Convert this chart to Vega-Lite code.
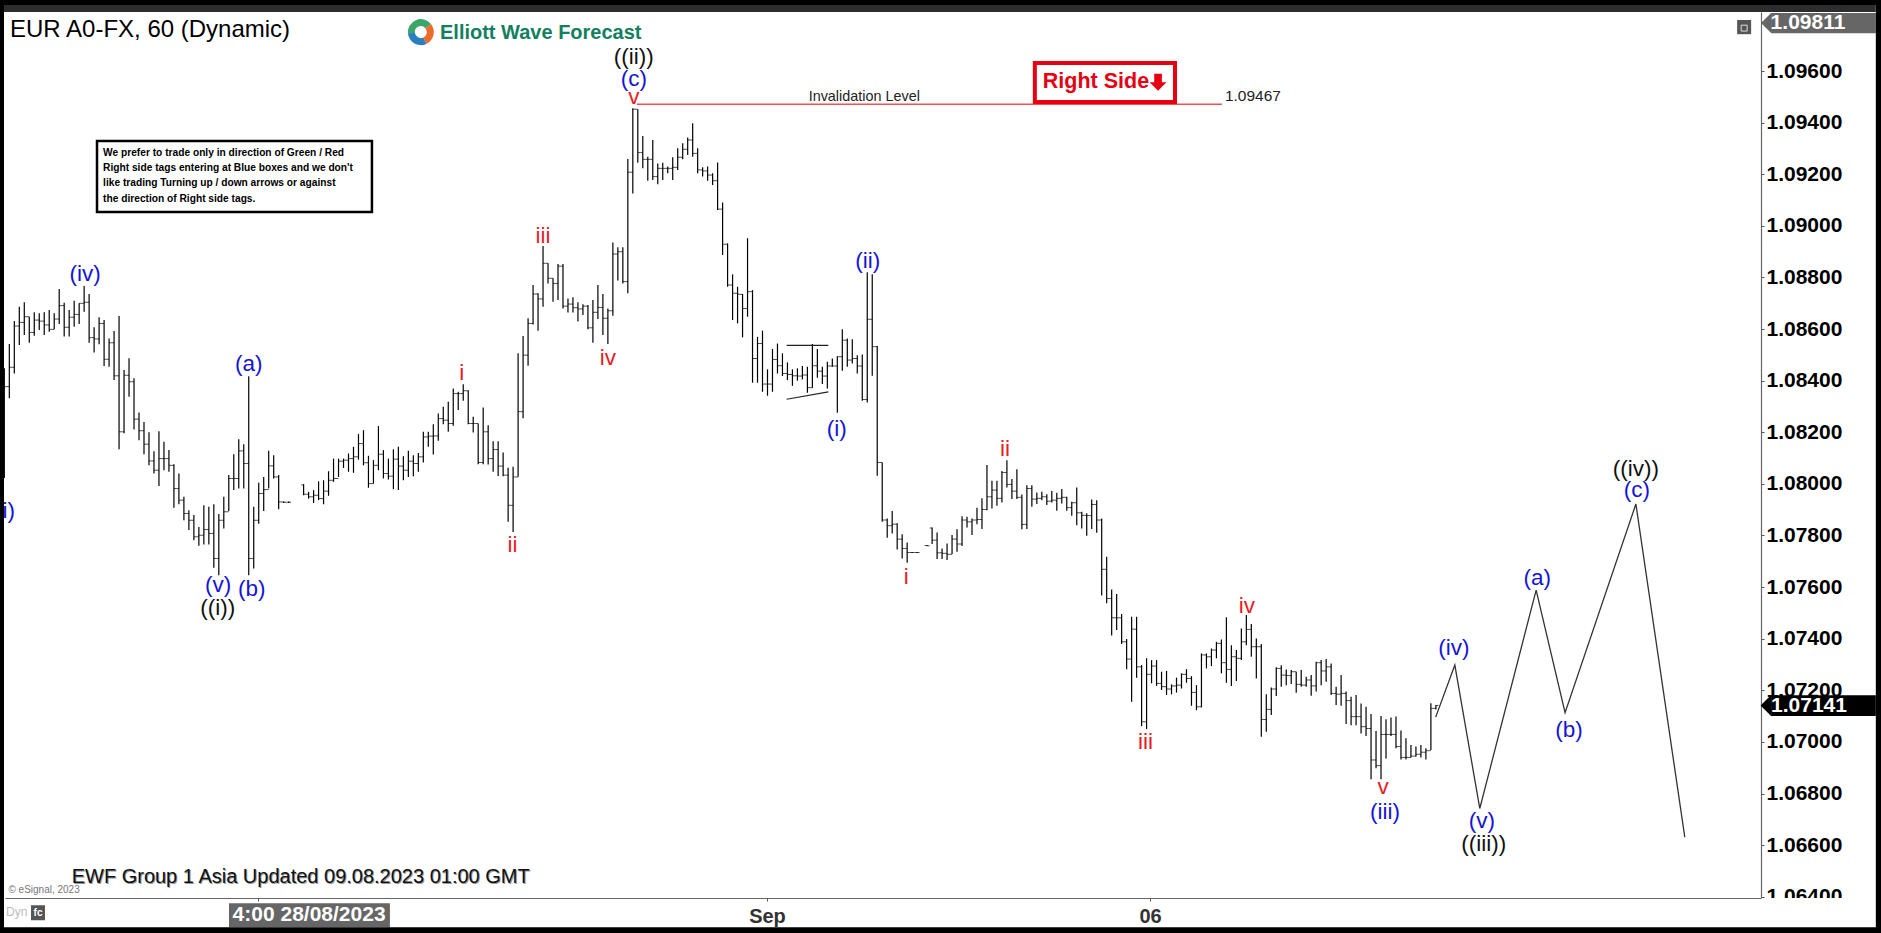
{"$schema":"https://vega.github.io/schema/vega-lite/v6.json","width":1756,"height":886,"padding":{"left":5,"top":12,"right":120,"bottom":35},"autosize":{"type":"none"},"background":"#ffffff","view":{"stroke":null,"fill":"#ffffff"},
"config":{"font":"Liberation Sans","text":{"font":"Liberation Sans"}},
"data":{"values":[{"part":"frame"}]},
"datasets":{
"bars":[
{"i":0,"h":1.08448,"l":1.08023,"o":1.08300,"c":1.08377},{"i":1,"h":1.08542,"l":1.08332,"o":1.08377,"c":1.08452},{"i":2,"h":1.08631,"l":1.08428,"o":1.08452,"c":1.08612},{"i":3,"h":1.08687,"l":1.08538,"o":1.08612,"c":1.08626},{"i":4,"h":1.08704,"l":1.08577,"o":1.08626,"c":1.08648},{"i":5,"h":1.08648,"l":1.08547,"o":1.08648,"c":1.08587},{"i":6,"h":1.08665,"l":1.08574,"o":1.08587,"c":1.08635},{"i":7,"h":1.08661,"l":1.08596,"o":1.08635,"c":1.08631},{"i":8,"h":1.08665,"l":1.08577,"o":1.08631,"c":1.08616},{"i":9,"h":1.08674,"l":1.08590,"o":1.08616,"c":1.08599},{"i":10,"h":1.08661,"l":1.08599,"o":1.08599,"c":1.08639},{"i":11,"h":1.08755,"l":1.08620,"o":1.08639,"c":1.08691},{"i":12,"h":1.08702,"l":1.08571,"o":1.08691,"c":1.08607},{"i":13,"h":1.08674,"l":1.08571,"o":1.08607,"c":1.08646},{"i":14,"h":1.08710,"l":1.08609,"o":1.08646,"c":1.08657},{"i":15,"h":1.08700,"l":1.08620,"o":1.08657,"c":1.08700},{"i":16,"h":1.08767,"l":1.08667,"o":1.08700,"c":1.08704},{"i":17,"h":1.08736,"l":1.08547,"o":1.08704,"c":1.08567},{"i":18,"h":1.08607,"l":1.08509,"o":1.08567,"c":1.08562},{"i":19,"h":1.08646,"l":1.08541,"o":1.08562,"c":1.08622},{"i":20,"h":1.08635,"l":1.08457,"o":1.08622,"c":1.08483},{"i":21,"h":1.08564,"l":1.08454,"o":1.08483,"c":1.08547},{"i":22,"h":1.08593,"l":1.08403,"o":1.08547,"c":1.08419},{"i":23,"h":1.08651,"l":1.08134,"o":1.08419,"c":1.08202},{"i":24,"h":1.08441,"l":1.08196,"o":1.08202,"c":1.08421},{"i":25,"h":1.08487,"l":1.08338,"o":1.08421,"c":1.08396},{"i":26,"h":1.08409,"l":1.08211,"o":1.08396,"c":1.08251},{"i":27,"h":1.08277,"l":1.08169,"o":1.08251,"c":1.08206},{"i":28,"h":1.08240,"l":1.08115,"o":1.08206,"c":1.08154},{"i":29,"h":1.08200,"l":1.08072,"o":1.08154,"c":1.08089},{"i":30,"h":1.08127,"l":1.08040,"o":1.08089,"c":1.08053},{"i":31,"h":1.08204,"l":1.07992,"o":1.08053,"c":1.08098},{"i":32,"h":1.08163,"l":1.08053,"o":1.08098,"c":1.08098},{"i":33,"h":1.08131,"l":1.08047,"o":1.08098,"c":1.08072},{"i":34,"h":1.08076,"l":1.07908,"o":1.08072,"c":1.07982},{"i":35,"h":1.08040,"l":1.07921,"o":1.07982,"c":1.07937},{"i":36,"h":1.07950,"l":1.07859,"o":1.07937,"c":1.07885},{"i":37,"h":1.07898,"l":1.07821,"o":1.07885,"c":1.07859},{"i":38,"h":1.07879,"l":1.07782,"o":1.07859,"c":1.07795},{"i":39,"h":1.07833,"l":1.07760,"o":1.07795,"c":1.07801},{"i":40,"h":1.07917,"l":1.07765,"o":1.07801,"c":1.07823},{"i":41,"h":1.07911,"l":1.07765,"o":1.07823,"c":1.07808},{"i":42,"h":1.07921,"l":1.07675,"o":1.07808,"c":1.07711},{"i":43,"h":1.07883,"l":1.07646,"o":1.07711,"c":1.07859},{"i":44,"h":1.07950,"l":1.07827,"o":1.07859,"c":1.07892},{"i":45,"h":1.08034,"l":1.07895,"o":1.07892,"c":1.08021},{"i":46,"h":1.08115,"l":1.07976,"o":1.08021,"c":1.08021},{"i":47,"h":1.08173,"l":1.07982,"o":1.08021,"c":1.08128},{"i":48,"h":1.08154,"l":1.07982,"o":1.08128,"c":1.08079},{"i":49,"h":1.08417,"l":1.07646,"o":1.08079,"c":1.07711},{"i":50,"h":1.07911,"l":1.07672,"o":1.07711,"c":1.07859},{"i":51,"h":1.08004,"l":1.07846,"o":1.07859,"c":1.07963},{"i":52,"h":1.08027,"l":1.07895,"o":1.07963,"c":1.07978},{"i":53,"h":1.08128,"l":1.07982,"o":1.07978,"c":1.08070},{"i":54,"h":1.08111,"l":1.08021,"o":1.08070,"c":1.08027},{"i":55,"h":1.08034,"l":1.07902,"o":1.08027,"c":1.07930},{"i":56,"h":1.07932,"l":1.07926,"o":1.07930,"c":1.07929},{"i":57,"h":1.07932,"l":1.07926,"o":1.07929,"c":1.07929},
{"i":60,"h":1.07999,"l":1.07956,"o":1.07996,"c":1.07960},{"i":61,"h":1.07969,"l":1.07943,"o":1.07960,"c":1.07950},{"i":62,"h":1.07976,"l":1.07926,"o":1.07950,"c":1.07956},{"i":63,"h":1.08010,"l":1.07937,"o":1.07956,"c":1.07943},{"i":64,"h":1.08014,"l":1.07921,"o":1.07943,"c":1.07972},{"i":65,"h":1.08049,"l":1.07954,"o":1.07972,"c":1.08014},{"i":66,"h":1.08098,"l":1.08008,"o":1.08014,"c":1.08021},{"i":67,"h":1.08098,"l":1.08027,"o":1.08021,"c":1.08088},{"i":68,"h":1.08098,"l":1.08062,"o":1.08088,"c":1.08092},{"i":69,"h":1.08118,"l":1.08047,"o":1.08092,"c":1.08098},{"i":70,"h":1.08144,"l":1.08043,"o":1.08098,"c":1.08105},{"i":71,"h":1.08193,"l":1.08094,"o":1.08105,"c":1.08156},{"i":72,"h":1.08208,"l":1.08072,"o":1.08156,"c":1.08082},{"i":73,"h":1.08109,"l":1.07985,"o":1.08082,"c":1.08001},{"i":74,"h":1.08092,"l":1.08001,"o":1.08001,"c":1.08072},{"i":75,"h":1.08224,"l":1.08053,"o":1.08072,"c":1.08115},{"i":76,"h":1.08131,"l":1.08021,"o":1.08115,"c":1.08040},{"i":77,"h":1.08098,"l":1.08017,"o":1.08040,"c":1.08030},{"i":78,"h":1.08134,"l":1.07979,"o":1.08030,"c":1.08096},{"i":79,"h":1.08144,"l":1.07976,"o":1.08096,"c":1.08069},{"i":80,"h":1.08107,"l":1.08014,"o":1.08069,"c":1.08053},{"i":81,"h":1.08128,"l":1.08027,"o":1.08053,"c":1.08088},{"i":82,"h":1.08111,"l":1.08030,"o":1.08088,"c":1.08079},{"i":83,"h":1.08120,"l":1.08047,"o":1.08079,"c":1.08105},{"i":84,"h":1.08202,"l":1.08083,"o":1.08105,"c":1.08182},{"i":85,"h":1.08202,"l":1.08144,"o":1.08182,"c":1.08185},{"i":86,"h":1.08231,"l":1.08114,"o":1.08185,"c":1.08186},{"i":87,"h":1.08273,"l":1.08167,"o":1.08186,"c":1.08253},{"i":88,"h":1.08299,"l":1.08231,"o":1.08253,"c":1.08247},{"i":89,"h":1.08318,"l":1.08202,"o":1.08247,"c":1.08234},{"i":90,"h":1.08370,"l":1.08225,"o":1.08234,"c":1.08350},{"i":91,"h":1.08357,"l":1.08286,"o":1.08350,"c":1.08350},{"i":92,"h":1.08386,"l":1.08322,"o":1.08350,"c":1.08361},{"i":93,"h":1.08363,"l":1.08231,"o":1.08361,"c":1.08234},{"i":94,"h":1.08260,"l":1.08199,"o":1.08234,"c":1.08234},{"i":95,"h":1.08234,"l":1.08076,"o":1.08234,"c":1.08083},{"i":96,"h":1.08296,"l":1.08076,"o":1.08083,"c":1.08202},{"i":97,"h":1.08227,"l":1.08075,"o":1.08202,"c":1.08098},{"i":98,"h":1.08165,"l":1.08047,"o":1.08098,"c":1.08133},{"i":99,"h":1.08165,"l":1.08031,"o":1.08133,"c":1.08069},{"i":100,"h":1.08122,"l":1.08030,"o":1.08069,"c":1.08034},{"i":101,"h":1.08063,"l":1.07853,"o":1.08034,"c":1.07917},{"i":102,"h":1.08066,"l":1.07814,"o":1.07917,"c":1.08027},{"i":103,"h":1.08506,"l":1.08028,"o":1.08027,"c":1.08280},{"i":104,"h":1.08573,"l":1.08254,"o":1.08280,"c":1.08499},{"i":105,"h":1.08642,"l":1.08458,"o":1.08499,"c":1.08622},{"i":106,"h":1.08771,"l":1.08618,"o":1.08622,"c":1.08736},{"i":107,"h":1.08739,"l":1.08594,"o":1.08736,"c":1.08717},{"i":108,"h":1.08922,"l":1.08687,"o":1.08717,"c":1.08855},{"i":109,"h":1.08855,"l":1.08777,"o":1.08855,"c":1.08797},{"i":110,"h":1.08797,"l":1.08706,"o":1.08797,"c":1.08777},{"i":111,"h":1.08852,"l":1.08713,"o":1.08777,"c":1.08844},{"i":112,"h":1.08852,"l":1.08680,"o":1.08844,"c":1.08689},{"i":113,"h":1.08719,"l":1.08664,"o":1.08689,"c":1.08697},{"i":114,"h":1.08723,"l":1.08664,"o":1.08697,"c":1.08683},{"i":115,"h":1.08704,"l":1.08629,"o":1.08683,"c":1.08678},{"i":116,"h":1.08696,"l":1.08655,"o":1.08678,"c":1.08689},{"i":117,"h":1.08693,"l":1.08599,"o":1.08689,"c":1.08605},{"i":118,"h":1.08713,"l":1.08547,"o":1.08605,"c":1.08665},{"i":119,"h":1.08771,"l":1.08639,"o":1.08665,"c":1.08684},{"i":120,"h":1.08736,"l":1.08577,"o":1.08684,"c":1.08642},{"i":121,"h":1.08680,"l":1.08542,"o":1.08642,"c":1.08671},{"i":122,"h":1.08936,"l":1.08652,"o":1.08671,"c":1.08891},{"i":123,"h":1.08917,"l":1.08788,"o":1.08891,"c":1.08900},{"i":124,"h":1.08917,"l":1.08777,"o":1.08900,"c":1.08784},{"i":125,"h":1.09259,"l":1.08739,"o":1.08784,"c":1.09208},{"i":126,"h":1.09456,"l":1.09126,"o":1.09208,"c":1.09452},{"i":127,"h":1.09452,"l":1.09245,"o":1.09452,"c":1.09284},{"i":128,"h":1.09348,"l":1.09223,"o":1.09284,"c":1.09258},{"i":129,"h":1.09268,"l":1.09175,"o":1.09258,"c":1.09258},{"i":130,"h":1.09333,"l":1.09178,"o":1.09258,"c":1.09191},{"i":131,"h":1.09242,"l":1.09161,"o":1.09191,"c":1.09223},{"i":132,"h":1.09245,"l":1.09178,"o":1.09223,"c":1.09223},{"i":133,"h":1.09230,"l":1.09204,"o":1.09223,"c":1.09223},{"i":134,"h":1.09266,"l":1.09178,"o":1.09223,"c":1.09227},{"i":135,"h":1.09301,"l":1.09217,"o":1.09227,"c":1.09266},{"i":136,"h":1.09320,"l":1.09258,"o":1.09266,"c":1.09297},{"i":137,"h":1.09343,"l":1.09275,"o":1.09297,"c":1.09333},{"i":138,"h":1.09398,"l":1.09268,"o":1.09333,"c":1.09281},{"i":139,"h":1.09301,"l":1.09204,"o":1.09281,"c":1.09217},{"i":140,"h":1.09227,"l":1.09191,"o":1.09217,"c":1.09213},{"i":141,"h":1.09230,"l":1.09175,"o":1.09213,"c":1.09197},{"i":142,"h":1.09204,"l":1.09158,"o":1.09197,"c":1.09175},{"i":143,"h":1.09246,"l":1.09062,"o":1.09175,"c":1.09065},{"i":144,"h":1.09091,"l":1.08887,"o":1.09065,"c":1.08929},{"i":145,"h":1.08932,"l":1.08764,"o":1.08929,"c":1.08771},{"i":146,"h":1.08812,"l":1.08635,"o":1.08771,"c":1.08739},{"i":147,"h":1.08764,"l":1.08622,"o":1.08739,"c":1.08735},{"i":148,"h":1.08736,"l":1.08568,"o":1.08735,"c":1.08680},{"i":149,"h":1.08952,"l":1.08648,"o":1.08680,"c":1.08745},{"i":150,"h":1.08751,"l":1.08392,"o":1.08745,"c":1.08486},{"i":151,"h":1.08570,"l":1.08392,"o":1.08486,"c":1.08544},{"i":152,"h":1.08594,"l":1.08357,"o":1.08544,"c":1.08387},{"i":153,"h":1.08444,"l":1.08342,"o":1.08387,"c":1.08387},{"i":154,"h":1.08523,"l":1.08357,"o":1.08387,"c":1.08482},{"i":155,"h":1.08544,"l":1.08428,"o":1.08482,"c":1.08458},{"i":156,"h":1.08506,"l":1.08418,"o":1.08458,"c":1.08428},{"i":157,"h":1.08471,"l":1.08402,"o":1.08428,"c":1.08424},{"i":158,"h":1.08444,"l":1.08380,"o":1.08424,"c":1.08419},{"i":159,"h":1.08448,"l":1.08400,"o":1.08419,"c":1.08418},{"i":160,"h":1.08457,"l":1.08405,"o":1.08418,"c":1.08422},{"i":161,"h":1.08454,"l":1.08353,"o":1.08422,"c":1.08373},{"i":162,"h":1.08542,"l":1.08373,"o":1.08373,"c":1.08458},{"i":163,"h":1.08523,"l":1.08411,"o":1.08458,"c":1.08437},{"i":164,"h":1.08454,"l":1.08387,"o":1.08437,"c":1.08418},{"i":165,"h":1.08473,"l":1.08370,"o":1.08418,"c":1.08457},{"i":166,"h":1.08486,"l":1.08454,"o":1.08457,"c":1.08457},{"i":167,"h":1.08495,"l":1.08276,"o":1.08457,"c":1.08493},{"i":168,"h":1.08599,"l":1.08439,"o":1.08493,"c":1.08557},{"i":169,"h":1.08564,"l":1.08454,"o":1.08557,"c":1.08480},{"i":170,"h":1.08561,"l":1.08467,"o":1.08480,"c":1.08486},{"i":171,"h":1.08499,"l":1.08428,"o":1.08486,"c":1.08457},{"i":172,"h":1.08502,"l":1.08322,"o":1.08457,"c":1.08327},{"i":173,"h":1.08820,"l":1.08315,"o":1.08327,"c":1.08638},{"i":174,"h":1.08813,"l":1.08419,"o":1.08638,"c":1.08532},{"i":175,"h":1.08534,"l":1.08032,"o":1.08532,"c":1.08083},{"i":176,"h":1.08083,"l":1.07853,"o":1.08083,"c":1.07860},{"i":177,"h":1.07866,"l":1.07791,"o":1.07860,"c":1.07838},{"i":178,"h":1.07895,"l":1.07808,"o":1.07838,"c":1.07844},{"i":179,"h":1.07847,"l":1.07746,"o":1.07844,"c":1.07786},{"i":180,"h":1.07805,"l":1.07711,"o":1.07786,"c":1.07750},{"i":181,"h":1.07773,"l":1.07694,"o":1.07750,"c":1.07734},{"i":182,"h":1.07736,"l":1.07732,"o":1.07734,"c":1.07734},{"i":183,"h":1.07736,"l":1.07732,"o":1.07734,"c":1.07734},
{"i":185,"h":1.07763,"l":1.07759,"o":1.07761,"c":1.07760},{"i":186,"h":1.07831,"l":1.07767,"o":1.07829,"c":1.07782},{"i":187,"h":1.07812,"l":1.07709,"o":1.07782,"c":1.07733},{"i":188,"h":1.07750,"l":1.07709,"o":1.07733,"c":1.07731},{"i":189,"h":1.07769,"l":1.07705,"o":1.07731,"c":1.07727},{"i":190,"h":1.07802,"l":1.07728,"o":1.07727,"c":1.07786},{"i":191,"h":1.07824,"l":1.07737,"o":1.07786,"c":1.07767},{"i":192,"h":1.07875,"l":1.07759,"o":1.07767,"c":1.07860},{"i":193,"h":1.07873,"l":1.07831,"o":1.07860,"c":1.07853},{"i":194,"h":1.07866,"l":1.07802,"o":1.07853,"c":1.07860},{"i":195,"h":1.07908,"l":1.07844,"o":1.07860,"c":1.07862},{"i":196,"h":1.07944,"l":1.07825,"o":1.07862,"c":1.07901},{"i":197,"h":1.08073,"l":1.07898,"o":1.07901,"c":1.07950},{"i":198,"h":1.08012,"l":1.07905,"o":1.07950,"c":1.07976},{"i":199,"h":1.08012,"l":1.07915,"o":1.07976,"c":1.07944},{"i":200,"h":1.08050,"l":1.07928,"o":1.07944,"c":1.08044},{"i":201,"h":1.08092,"l":1.07986,"o":1.08044,"c":1.07998},{"i":202,"h":1.08019,"l":1.07941,"o":1.07998,"c":1.07972},{"i":203,"h":1.08057,"l":1.07941,"o":1.07972,"c":1.07948},{"i":204,"h":1.07959,"l":1.07824,"o":1.07948,"c":1.07843},{"i":205,"h":1.07995,"l":1.07825,"o":1.07843,"c":1.07982},{"i":206,"h":1.07995,"l":1.07911,"o":1.07982,"c":1.07941},{"i":207,"h":1.07967,"l":1.07922,"o":1.07941,"c":1.07944},{"i":208,"h":1.07970,"l":1.07937,"o":1.07944,"c":1.07950},{"i":209,"h":1.07960,"l":1.07918,"o":1.07950,"c":1.07933},{"i":210,"h":1.07972,"l":1.07928,"o":1.07933,"c":1.07937},{"i":211,"h":1.07966,"l":1.07896,"o":1.07937,"c":1.07944},{"i":212,"h":1.07980,"l":1.07924,"o":1.07944,"c":1.07948},{"i":213,"h":1.07950,"l":1.07896,"o":1.07948,"c":1.07908},{"i":214,"h":1.07931,"l":1.07877,"o":1.07908,"c":1.07927},{"i":215,"h":1.07986,"l":1.07840,"o":1.07927,"c":1.07888},{"i":216,"h":1.07892,"l":1.07827,"o":1.07888,"c":1.07878},{"i":217,"h":1.07886,"l":1.07799,"o":1.07878,"c":1.07877},{"i":218,"h":1.07940,"l":1.07825,"o":1.07877,"c":1.07920},{"i":219,"h":1.07937,"l":1.07811,"o":1.07920,"c":1.07860},{"i":220,"h":1.07866,"l":1.07567,"o":1.07860,"c":1.07669},{"i":221,"h":1.07718,"l":1.07537,"o":1.07669,"c":1.07556},{"i":222,"h":1.07591,"l":1.07412,"o":1.07556,"c":1.07481},{"i":223,"h":1.07573,"l":1.07434,"o":1.07481,"c":1.07481},{"i":224,"h":1.07496,"l":1.07379,"o":1.07481,"c":1.07388},{"i":225,"h":1.07399,"l":1.07282,"o":1.07388,"c":1.07321},{"i":226,"h":1.07485,"l":1.07156,"o":1.07321,"c":1.07437},{"i":227,"h":1.07485,"l":1.07249,"o":1.07437,"c":1.07291},{"i":228,"h":1.07298,"l":1.07061,"o":1.07291,"c":1.07078},{"i":229,"h":1.07324,"l":1.07050,"o":1.07078,"c":1.07262},{"i":230,"h":1.07317,"l":1.07227,"o":1.07262,"c":1.07294},{"i":231,"h":1.07317,"l":1.07217,"o":1.07294,"c":1.07227},{"i":232,"h":1.07272,"l":1.07201,"o":1.07227,"c":1.07214},{"i":233,"h":1.07275,"l":1.07182,"o":1.07214,"c":1.07205},{"i":234,"h":1.07223,"l":1.07184,"o":1.07205,"c":1.07217},{"i":235,"h":1.07249,"l":1.07191,"o":1.07217,"c":1.07220},{"i":236,"h":1.07266,"l":1.07207,"o":1.07220,"c":1.07262},{"i":237,"h":1.07282,"l":1.07229,"o":1.07262,"c":1.07246},{"i":238,"h":1.07255,"l":1.07140,"o":1.07246,"c":1.07192},{"i":239,"h":1.07220,"l":1.07123,"o":1.07192,"c":1.07136},{"i":240,"h":1.07343,"l":1.07134,"o":1.07136,"c":1.07337},{"i":241,"h":1.07343,"l":1.07285,"o":1.07337,"c":1.07330},{"i":242,"h":1.07362,"l":1.07294,"o":1.07330,"c":1.07356},{"i":243,"h":1.07388,"l":1.07324,"o":1.07356,"c":1.07382},{"i":244,"h":1.07397,"l":1.07266,"o":1.07382,"c":1.07307},{"i":245,"h":1.07483,"l":1.07229,"o":1.07307,"c":1.07281},{"i":246,"h":1.07375,"l":1.07217,"o":1.07281,"c":1.07330},{"i":247,"h":1.07356,"l":1.07236,"o":1.07330,"c":1.07324},{"i":248,"h":1.07440,"l":1.07317,"o":1.07324,"c":1.07388},{"i":249,"h":1.07492,"l":1.07375,"o":1.07388,"c":1.07436},{"i":250,"h":1.07457,"l":1.07330,"o":1.07436,"c":1.07369},{"i":251,"h":1.07401,"l":1.07246,"o":1.07369,"c":1.07369},{"i":252,"h":1.07379,"l":1.07020,"o":1.07369,"c":1.07087},{"i":253,"h":1.07185,"l":1.07039,"o":1.07087,"c":1.07126},{"i":254,"h":1.07211,"l":1.07104,"o":1.07126,"c":1.07205},{"i":255,"h":1.07289,"l":1.07178,"o":1.07205,"c":1.07285},{"i":256,"h":1.07297,"l":1.07214,"o":1.07285,"c":1.07259},{"i":257,"h":1.07281,"l":1.07220,"o":1.07259,"c":1.07257},{"i":258,"h":1.07279,"l":1.07224,"o":1.07257,"c":1.07272},{"i":259,"h":1.07272,"l":1.07191,"o":1.07272,"c":1.07223},{"i":260,"h":1.07279,"l":1.07214,"o":1.07223,"c":1.07220},{"i":261,"h":1.07253,"l":1.07214,"o":1.07220,"c":1.07240},{"i":262,"h":1.07259,"l":1.07179,"o":1.07240,"c":1.07217},{"i":263,"h":1.07311,"l":1.07195,"o":1.07217,"c":1.07307},{"i":264,"h":1.07317,"l":1.07220,"o":1.07307,"c":1.07275},{"i":265,"h":1.07321,"l":1.07233,"o":1.07275,"c":1.07291},{"i":266,"h":1.07304,"l":1.07182,"o":1.07291,"c":1.07188},{"i":267,"h":1.07214,"l":1.07143,"o":1.07188,"c":1.07185},{"i":268,"h":1.07259,"l":1.07140,"o":1.07185,"c":1.07188},{"i":269,"h":1.07195,"l":1.07069,"o":1.07188,"c":1.07160},{"i":270,"h":1.07175,"l":1.07065,"o":1.07160,"c":1.07098},{"i":271,"h":1.07182,"l":1.07065,"o":1.07098,"c":1.07098},{"i":272,"h":1.07149,"l":1.07033,"o":1.07098,"c":1.07059},{"i":273,"h":1.07136,"l":1.07023,"o":1.07059,"c":1.07052},{"i":274,"h":1.07108,"l":1.06855,"o":1.07052,"c":1.06930},{"i":275,"h":1.07042,"l":1.06898,"o":1.06930,"c":1.06908},{"i":276,"h":1.07100,"l":1.06855,"o":1.06908,"c":1.07029},{"i":277,"h":1.07088,"l":1.06936,"o":1.07029,"c":1.07029},{"i":278,"h":1.07095,"l":1.07023,"o":1.07029,"c":1.07029},{"i":279,"h":1.07098,"l":1.06975,"o":1.07029,"c":1.06982},{"i":280,"h":1.07044,"l":1.06932,"o":1.06982,"c":1.06940},{"i":281,"h":1.07014,"l":1.06932,"o":1.06940,"c":1.06940},{"i":282,"h":1.06988,"l":1.06940,"o":1.06940,"c":1.06945},{"i":283,"h":1.06982,"l":1.06943,"o":1.06945,"c":1.06952},{"i":284,"h":1.06988,"l":1.06940,"o":1.06952,"c":1.06960},{"i":285,"h":1.06975,"l":1.06932,"o":1.06960,"c":1.06966},{"i":286,"h":1.07150,"l":1.06969,"o":1.06966,"c":1.07130},{"i":287,"h":1.07143,"l":1.07126,"o":1.07130,"c":1.07141}
],
"projection":[{"b":286.96,"p":1.07096},{"b":290.8,"p":1.07298},{"b":295.8,"p":1.06742},{"b":307.1,"p":1.07588},{"b":312.9,"p":1.07113},{"b":327.1,"p":1.07922},{"b":336.9,"p":1.06631}],
"waves":[{"b":16.2,"p":1.08813,"t":"(iv)","g":"minute"},{"b":0.13,"p":1.07895,"t":"(i)","g":"minute"},{"b":49.0,"p":1.08464,"t":"(a)","g":"minute"},{"b":42.84,"p":1.07608,"t":"(v)","g":"minute"},{"b":49.6,"p":1.07592,"t":"(b)","g":"minute"},{"b":42.8,"p":1.07519,"t":"((i))","g":"minor"},{"b":91.7,"p":1.08429,"t":"i","g":"sub"},{"b":101.9,"p":1.07763,"t":"ii","g":"sub"},{"b":108.0,"p":1.0896,"t":"iii","g":"sub"},{"b":121.0,"p":1.08488,"t":"iv","g":"sub"},{"b":126.2,"p":1.09499,"t":"v","g":"sub"},{"b":126.2,"p":1.09569,"t":"(c)","g":"minute"},{"b":126.2,"p":1.09654,"t":"((ii))","g":"minor"},{"b":173.1,"p":1.08864,"t":"(ii)","g":"minute"},{"b":166.9,"p":1.08212,"t":"(i)","g":"minute"},{"b":180.8,"p":1.07639,"t":"i","g":"sub"},{"b":200.6,"p":1.08135,"t":"ii","g":"sub"},{"b":228.8,"p":1.06999,"t":"iii","g":"sub"},{"b":249.1,"p":1.07526,"t":"iv","g":"sub"},{"b":276.4,"p":1.06825,"t":"v","g":"sub"},{"b":276.8,"p":1.06728,"t":"(iii)","g":"minute"},{"b":290.6,"p":1.07364,"t":"(iv)","g":"minute"},{"b":296.2,"p":1.06693,"t":"(v)","g":"minute"},{"b":296.6,"p":1.06604,"t":"((iii))","g":"minor"},{"b":313.7,"p":1.07046,"t":"(b)","g":"minute"},{"b":307.3,"p":1.07635,"t":"(a)","g":"minute"},{"b":327.3,"p":1.07976,"t":"(c)","g":"minute"},{"b":327.1,"p":1.08057,"t":"((iv))","g":"minor"}],
"triangle":[{"b":156.85,"b2":165.2,"p":1.08537,"p2":1.08537},{"b":156.85,"b2":165.2,"p":1.08328,"p2":1.08357}],
"note":[{"b":19.8,"p":1.09282,"t":"We prefer to trade only in direction of Green / Red"},{"b":19.8,"p":1.09224,"t":"Right side tags entering at Blue boxes and we don't"},{"b":19.8,"p":1.09166,"t":"like trading Turning up / down arrows or against"},{"b":19.8,"p":1.09104,"t":"the direction of Right side tags."}]
},
"layer":[
{"data":{"name":"bars"},"mark":{"type":"rule","color":"#000000","strokeWidth":1.2},"encoding":{"x":{"field":"i","type":"quantitative","scale":{"domain":[0.134,352.18],"nice":false,"zero":false},"axis":{"orient":"bottom","zindex":1,"title":null,"grid":false,"values":[50.86,152.9,229.7],"labelExpr":"datum.value<100?'':(datum.value<200?'Sep':'06')","labelFont":"Liberation Sans","labelFontWeight":"bold","labelFontSize":20,"labelColor":"#333333","labelPadding":5,"tickSize":3,"tickColor":"#555555","domainColor":"#666666","domainWidth":1.2,"labelFlush":false}},"y":{"field":"h","type":"quantitative","scale":{"domain":[1.06395,1.09829],"nice":false,"zero":false},"axis":{"orient":"right","zindex":0,"title":null,"grid":false,"values":[1.064,1.066,1.068,1.07,1.072,1.074,1.076,1.078,1.08,1.082,1.084,1.086,1.088,1.09,1.092,1.094,1.096],"format":".5f","labelFont":"Liberation Sans","labelFontWeight":"bold","labelFontSize":21,"labelColor":"#000000","labelPadding":2,"tickSize":3,"tickColor":"#555555","domainColor":"#666666","domainWidth":1.2,"labelOverlap":false,"labelFlush":false,"labelBound":false}},"y2":{"field":"l"}}},
{"data":{"name":"bars"},"mark":{"type":"tick","orient":"horizontal","color":"#000000","size":2.5,"thickness":1,"xOffset":-1.25},"encoding":{"x":{"field":"i","type":"quantitative"},"y":{"field":"o","type":"quantitative"}}},
{"data":{"name":"bars"},"mark":{"type":"tick","orient":"horizontal","color":"#000000","size":2.5,"thickness":1,"xOffset":1.25},"encoding":{"x":{"field":"i","type":"quantitative"},"y":{"field":"c","type":"quantitative"}}},
{"data":{"name":"projection"},"mark":{"type":"line","color":"#333333","strokeWidth":1.3},"encoding":{"x":{"field":"b","type":"quantitative"},"y":{"field":"p","type":"quantitative"},"order":{"field":"b"}}},
{"data":{"name":"triangle"},"mark":{"type":"rule","color":"#222222","strokeWidth":1.2},"encoding":{"x":{"field":"b","type":"quantitative"},"x2":{"field":"b2"},"y":{"field":"p","type":"quantitative"},"y2":{"field":"p2"}}},
{"data":{"values":[{"b":126.8,"b2":244.1,"p":1.09471}]},"mark":{"type":"rule","color":"#f05050","strokeWidth":1.5},"encoding":{"x":{"field":"b","type":"quantitative"},"x2":{"field":"b2"},"y":{"field":"p","type":"quantitative"}}},
{"mark":{"type":"rect","fill":"#ffffff","stroke":"#000000","strokeWidth":2.5},"encoding":{"x":{"datum":18.58},"x2":{"datum":73.7},"y":{"datum":1.09329},"y2":{"datum":1.09054}}},
{"data":{"name":"note"},"mark":{"type":"text","align":"left","baseline":"middle","font":"Liberation Sans","fontWeight":"bold","fontSize":10.2,"color":"#000000"},"encoding":{"x":{"field":"b","type":"quantitative"},"y":{"field":"p","type":"quantitative"},"text":{"field":"t"}}},
{"mark":{"type":"rect","fill":"#ffffff","stroke":"#e60012","strokeWidth":4},"encoding":{"x":{"datum":206.6},"x2":{"datum":234.7},"y":{"datum":1.09631},"y2":{"datum":1.0948}}},
{"mark":{"type":"text","align":"left","baseline":"middle","font":"Liberation Sans","fontWeight":"bold","fontSize":21.5,"color":"#e60012"},"encoding":{"x":{"datum":208.2},"y":{"datum":1.09557},"text":{"value":"Right Side"}}},
{"mark":{"type":"point","filled":true,"color":"#e60012","opacity":1,"size":289,"shape":"M -0.45 -1 L 0.45 -1 L 0.45 0 L 1 0 L 0 1 L -1 0 L -0.45 0 Z"},"encoding":{"x":{"datum":231.3},"y":{"datum":1.09557}}},
{"mark":{"type":"text","align":"center","baseline":"middle","fontSize":14.4,"color":"#222222"},"encoding":{"x":{"datum":172.4},"y":{"datum":1.09499},"text":{"value":"Invalidation Level"}}},
{"mark":{"type":"text","align":"left","baseline":"middle","fontSize":15.5,"color":"#222222"},"encoding":{"x":{"datum":244.7},"y":{"datum":1.09503},"text":{"value":"1.09467"}}},
{"data":{"name":"waves"},"mark":{"type":"text","align":"center","baseline":"middle","fontSize":22.5},"encoding":{"x":{"field":"b","type":"quantitative"},"y":{"field":"p","type":"quantitative"},"text":{"field":"t"},"color":{"field":"g","type":"nominal","scale":{"domain":["minute","sub","minor"],"range":["#1414d8","#e81c24","#111111"]},"legend":null}}},
{"mark":{"type":"text","align":"left","baseline":"middle","fontSize":24,"color":"#000000"},"encoding":{"x":{"datum":1.14},"y":{"datum":1.09759},"text":{"value":"EUR A0-FX, 60 (Dynamic)"}}},
{"mark":{"type":"arc","radius":13,"radius2":6,"theta":-1.7,"theta2":0.9,"fill":"#3aa66a"},"encoding":{"x":{"datum":83.5},"y":{"datum":1.09751}}},
{"mark":{"type":"arc","radius":13,"radius2":6,"theta":0.9,"theta2":2.7,"fill":"#ee6a2c"},"encoding":{"x":{"datum":83.5},"y":{"datum":1.09751}}},
{"mark":{"type":"arc","radius":13,"radius2":6,"theta":2.7,"theta2":4.6,"fill":"#2a7fc0"},"encoding":{"x":{"datum":83.5},"y":{"datum":1.09751}}},
{"mark":{"type":"text","align":"left","baseline":"middle","fontSize":20,"fontWeight":"bold","color":"#12805f"},"encoding":{"x":{"datum":87.34},"y":{"datum":1.09747},"text":{"value":"Elliott Wave Forecast"}}},
{"mark":{"type":"rect","fill":"#555555"},"encoding":{"x":{"datum":347.4},"x2":{"datum":350.2},"y":{"datum":1.09798},"y2":{"datum":1.09743}}},
{"mark":{"type":"rect","fill":"#555555","stroke":"#dddddd","strokeWidth":1},"encoding":{"x":{"datum":348.2},"x2":{"datum":349.4},"y":{"datum":1.09778},"y2":{"datum":1.09755}}},
{"mark":{"type":"rect","fill":"#666666"},"encoding":{"x":{"datum":354.2},"x2":{"datum":375.2},"y":{"datum":1.09825},"y2":{"datum":1.09747}}},
{"mark":{"type":"point","filled":true,"color":"#666666","opacity":1,"size":400,"shape":"M -1 0 L 0 -1 L 0 1 Z"},"encoding":{"x":{"datum":354.2},"y":{"datum":1.09786}}},
{"mark":{"type":"text","align":"center","baseline":"middle","fontSize":21,"fontWeight":"bold","color":"#ffffff"},"encoding":{"x":{"datum":361.6},"y":{"datum":1.09786},"text":{"value":"1.09811"}}},
{"mark":{"type":"rect","fill":"#000000"},"encoding":{"x":{"datum":354.2},"x2":{"datum":375.2},"y":{"datum":1.07181},"y2":{"datum":1.071}}},
{"mark":{"type":"point","filled":true,"color":"#000000","opacity":1,"size":441,"shape":"M -1 0 L 0 -1 L 0 1 Z"},"encoding":{"x":{"datum":354.2},"y":{"datum":1.07141}}},
{"mark":{"type":"text","align":"center","baseline":"middle","fontSize":21,"fontWeight":"bold","color":"#ffffff"},"encoding":{"x":{"datum":361.8},"y":{"datum":1.07141},"text":{"value":"1.07141"}}},
{"mark":{"type":"rect","fill":"#ffffff"},"encoding":{"x":{"datum":-0.87},"x2":{"datum":375.2},"y":{"datum":1.06395},"y2":{"datum":1.06282}}},
{"mark":{"type":"text","align":"left","baseline":"middle","fontSize":20,"color":"#999999","dx":1,"dy":1},"encoding":{"x":{"datum":13.5},"y":{"datum":1.06476},"text":{"value":"EWF Group 1 Asia Updated 09.08.2023 01:00 GMT"}}},
{"mark":{"type":"text","align":"left","baseline":"middle","fontSize":20,"color":"#111111"},"encoding":{"x":{"datum":13.5},"y":{"datum":1.06476},"text":{"value":"EWF Group 1 Asia Updated 09.08.2023 01:00 GMT"}}},
{"mark":{"type":"text","align":"left","baseline":"middle","fontSize":10,"color":"#777777"},"encoding":{"x":{"datum":0.82},"y":{"datum":1.06426},"text":{"value":"© eSignal, 2023"}}},
{"mark":{"type":"text","align":"left","baseline":"middle","fontSize":12,"color":"#bbbbbb"},"encoding":{"x":{"datum":0.33},"y":{"datum":1.0634},"text":{"value":"Dyn"}}},
{"mark":{"type":"rect","fill":"#555555"},"encoding":{"x":{"datum":5.35},"x2":{"datum":8.15},"y":{"datum":1.06367},"y2":{"datum":1.06309}}},
{"mark":{"type":"text","align":"center","baseline":"middle","fontSize":10,"fontWeight":"bold","color":"#ffffff"},"encoding":{"x":{"datum":6.75},"y":{"datum":1.06338},"text":{"value":"fc"}}},
{"mark":{"type":"rect","fill":"#666666"},"encoding":{"x":{"datum":45.04},"x2":{"datum":77.3},"y":{"datum":1.06375},"y2":{"datum":1.06282}}},
{"mark":{"type":"text","align":"center","baseline":"middle","fontSize":21,"fontWeight":"bold","color":"#ffffff"},"encoding":{"x":{"datum":61.1},"y":{"datum":1.06329},"text":{"value":"4:00 28/08/2023"}}},
{"mark":{"type":"rect","fill":"#000000"},"encoding":{"x":{"datum":-1.5},"x2":{"datum":-0.066},"y":{"datum":1.0995},"y2":{"datum":1.0615}}},
{"mark":{"type":"rect","fill":"#000000"},"encoding":{"x":{"datum":375.2},"x2":{"datum":377},"y":{"datum":1.0995},"y2":{"datum":1.0615}}},
{"mark":{"type":"rect","fill":"#000000"},"encoding":{"x":{"datum":-1.5},"x2":{"datum":377},"y":{"datum":1.0995},"y2":{"datum":1.09856}}},
{"mark":{"type":"rect","fill":"#2d2d2d"},"encoding":{"x":{"datum":-0.066},"x2":{"datum":375.2},"y":{"datum":1.09856},"y2":{"datum":1.09829}}},
{"mark":{"type":"rect","fill":"#000000"},"encoding":{"x":{"datum":-1.5},"x2":{"datum":377},"y":{"datum":1.06282},"y2":{"datum":1.0615}}}
]}
